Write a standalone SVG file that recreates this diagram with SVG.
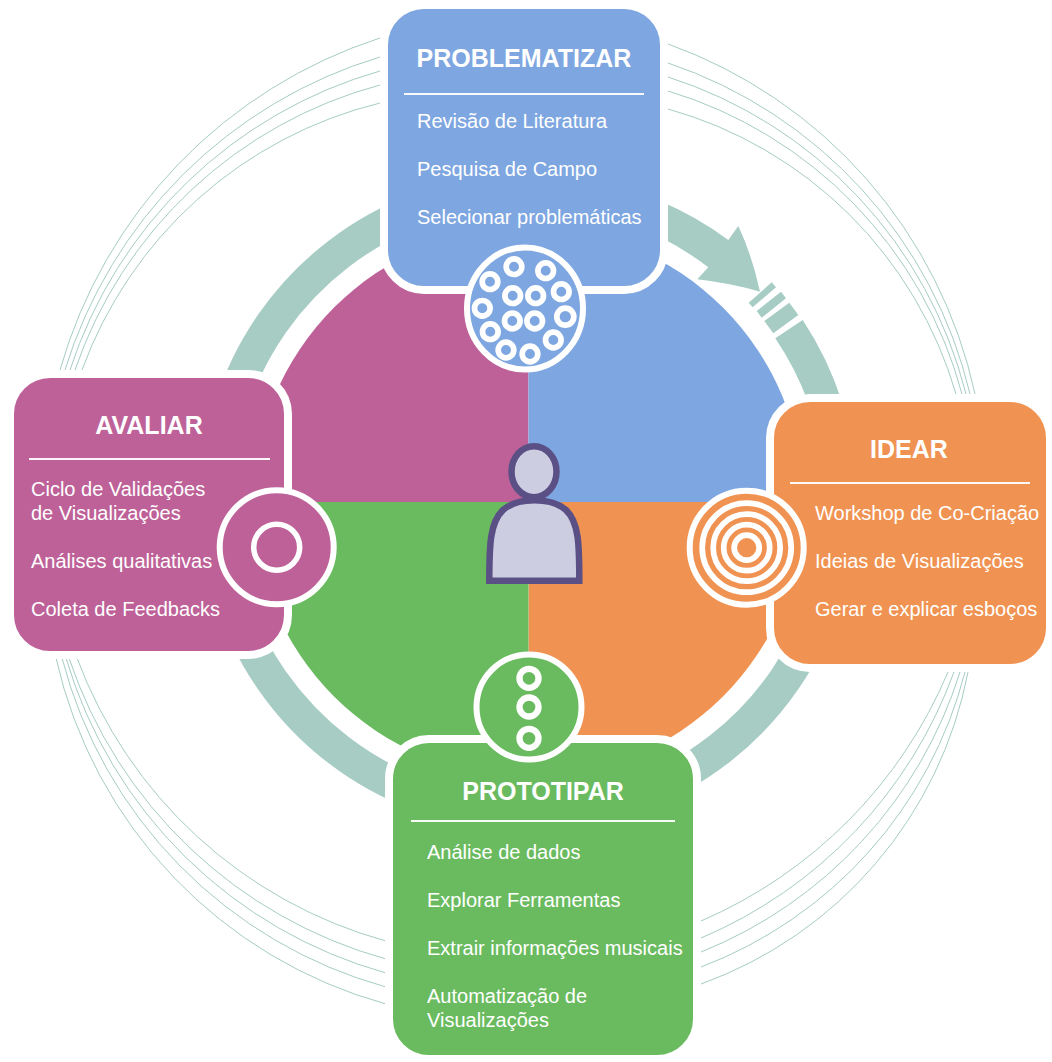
<svg xmlns="http://www.w3.org/2000/svg" width="1052" height="1062" viewBox="0 0 1052 1062">
<style>
.bg{fill:#fff}
.thin{fill:none;stroke:#a6ccc4;stroke-width:1}
.ring{fill:none;stroke:#a6ccc4;stroke-width:33}
.teal{fill:#a6ccc4}
.box{stroke:#fff;stroke-width:8}
.pink{fill:#be6198}.blue{fill:#7ea6e0}.green{fill:#6abb60}.orange{fill:#f09352}
.w{fill:none;stroke:#fff}
.div{stroke:#fff;stroke-width:2;opacity:.95}
text{fill:#fff}
.t{font-family:"Liberation Sans",Arial,sans-serif;font-weight:700;font-size:25px;text-anchor:middle}
.i{font-family:"Liberation Sans",Arial,sans-serif;font-size:20px}
</style>
<rect class="bg" width="1052" height="1062"/>
<g id="orbits">
<path class="thin" d="M380 38A490 490 0 0 0 60 370M380 57A472 472 0 0 0 65 370M380 71A458 458 0 0 0 70 370M380 85A444 444 0 0 0 75 370M380 103A425 425 0 0 0 82 370"/>
<path class="thin" d="M668 44A480 480 0 0 1 975 394M668 63A462 462 0 0 1 970 394M668 77A448 448 0 0 1 966 394M668 91A434 434 0 0 1 962 394M668 109A417 417 0 0 1 956 394"/>
<path class="thin" d="M948 672A470 470 0 0 1 701 921M954 672A460 460 0 0 1 701 938M960 672A445 445 0 0 1 701 952M965 672A430 430 0 0 1 701 967M968 672A415 415 0 0 1 701 984"/>
<path class="thin" d="M77 658A460 460 0 0 0 386 941M69 658A465 465 0 0 0 386 959M66 658A463 463 0 0 0 386 973M62 658A462 462 0 0 0 386 987M56 658A465 465 0 0 0 386 1004"/>
</g>
<g id="disc">
<path class="pink" d="M528.500 502V227A275 275 0 0 0 253.500 502Z"/>
<path class="blue" d="M528.500 502V227A275 275 0 0 1 803.500 502Z"/>
<path class="orange" d="M528.500 502H803.500A275 275 0 0 1 528.500 777Z"/>
<path class="green" d="M528.500 502H253.500A275 275 0 0 0 528.500 777Z"/>
</g>
<g id="connectors">
<path class="ring" d="M420 209A312.500 312.500 0 0 0 216 502"/>
<path class="ring" d="M216 502A312.500 312.500 0 0 0 420 795"/>
<path class="ring" d="M840 502A312.500 312.500 0 0 1 640 794"/>
<path class="teal" d="M660 201A329 329 0 0 1 728.300 240L738.300 226Q752 255 760 291.700Q730 283 697.300 279.300L708.300 267.300A296 296 0 0 0 660 237Z"/>
<path class="teal" d="M771.700 282.300L776 287.300L752.700 307.300L748.700 302.700ZM781 291.700L786 298.300L761.700 317.700L756.700 311ZM789.300 302.700L798.300 315L773.300 333.300L764.300 321ZM802.700 320A329 329 0 0 1 842 402L808 402A296 296 0 0 0 775.300 338.300Z"/>
</g>
<g id="problematizar">
<rect class="box blue" x="384" y="5" width="280" height="285" rx="40"/>
<text class="t" x="524" y="67">PROBLEMATIZAR</text>
<line class="div" x1="404" y1="94" x2="644" y2="94"/>
<text class="i" x="417" y="128">Revisão de Literatura</text>
<text class="i" x="417" y="176">Pesquisa de Campo</text>
<text class="i" x="417" y="224">Selecionar problemáticas</text>
<ellipse class="blue" cx="525" cy="308.500" rx="58" ry="61" stroke="#fff" stroke-width="6"/>
<g class="w" stroke-width="5.700">
<circle cx="514" cy="266.700" r="7.800"/><circle cx="545.700" cy="270.700" r="7.800"/><circle cx="490" cy="281.700" r="7.800"/><circle cx="561.300" cy="291.700" r="7.800"/><circle cx="512.700" cy="295.700" r="7.800"/><circle cx="535.700" cy="295.700" r="7.800"/><circle cx="482.300" cy="308.300" r="7.800"/><circle cx="565.300" cy="316.700" r="8.500"/><circle cx="512.300" cy="321" r="7.800"/><circle cx="534.700" cy="321" r="7.800"/><circle cx="490.300" cy="331.700" r="7.800"/><circle cx="553.300" cy="340" r="7.800"/><circle cx="506" cy="350" r="7.800"/><circle cx="530" cy="354" r="7.800"/>
</g>
</g>
<g id="avaliar">
<rect class="box pink" x="10" y="374" width="278" height="281" rx="40"/>
<text class="t" x="149" y="434">AVALIAR</text>
<line class="div" x1="29" y1="459" x2="270" y2="459"/>
<text class="i" x="31" y="496">Ciclo de Validações</text>
<text class="i" x="31" y="520">de Visualizações</text>
<text class="i" x="31" y="568">Análises qualitativas</text>
<text class="i" x="31" y="616">Coleta de Feedbacks</text>
<circle class="pink" cx="276.700" cy="547.300" r="57" stroke="#fff" stroke-width="6"/>
<circle class="w" cx="276.700" cy="547.300" r="23" stroke-width="5.500"/>
</g>
<g id="idear">
<rect class="box orange" x="770" y="398" width="280" height="270" rx="40"/>
<text class="t" x="909" y="458">IDEAR</text>
<line class="div" x1="790" y1="483" x2="1030" y2="483"/>
<text class="i" x="815" y="520">Workshop de Co-Criação</text>
<text class="i" x="815" y="568">Ideias de Visualizações</text>
<text class="i" x="815" y="616">Gerar e explicar esboços</text>
<circle class="orange" cx="746.700" cy="547.700" r="57" stroke="#fff" stroke-width="6"/>
<g class="w" stroke-width="5.700">
<circle cx="746.700" cy="547.700" r="44.500"/><circle cx="746.700" cy="547.700" r="33.500"/><circle cx="746.700" cy="547.700" r="23"/><circle cx="746.700" cy="547.700" r="12.500"/>
</g>
</g>
<g id="prototipar">
<rect class="box green" x="389" y="739" width="308" height="320" rx="40"/>
<text class="t" x="543" y="800">PROTOTIPAR</text>
<line class="div" x1="411" y1="821" x2="675" y2="821"/>
<text class="i" x="427" y="859">Análise de dados</text>
<text class="i" x="427" y="907">Explorar Ferramentas</text>
<text class="i" x="427" y="955">Extrair informações musicais</text>
<text class="i" x="427" y="1003">Automatização de</text>
<text class="i" x="427" y="1027">Visualizações</text>
<circle class="green" cx="529" cy="707" r="52.500" stroke="#fff" stroke-width="6"/>
<g class="w" stroke-width="6.300">
<circle cx="529" cy="678.300" r="9.500"/><circle cx="529" cy="707" r="9.500"/><circle cx="529" cy="738.300" r="9.500"/>
</g>
</g>
<g id="person" fill="#cdcde2" stroke="#5b5086" stroke-width="6.500">
<ellipse cx="534" cy="471.700" rx="22.500" ry="25.500"/>
<path d="M489.300 580.700C489.300 545 490 522 503 510C511 503 522 500.300 534.500 500.300C547 500.300 558 503 566 510C579 522 579.300 545 579.300 580.700Z"/>
</g>
</svg>
